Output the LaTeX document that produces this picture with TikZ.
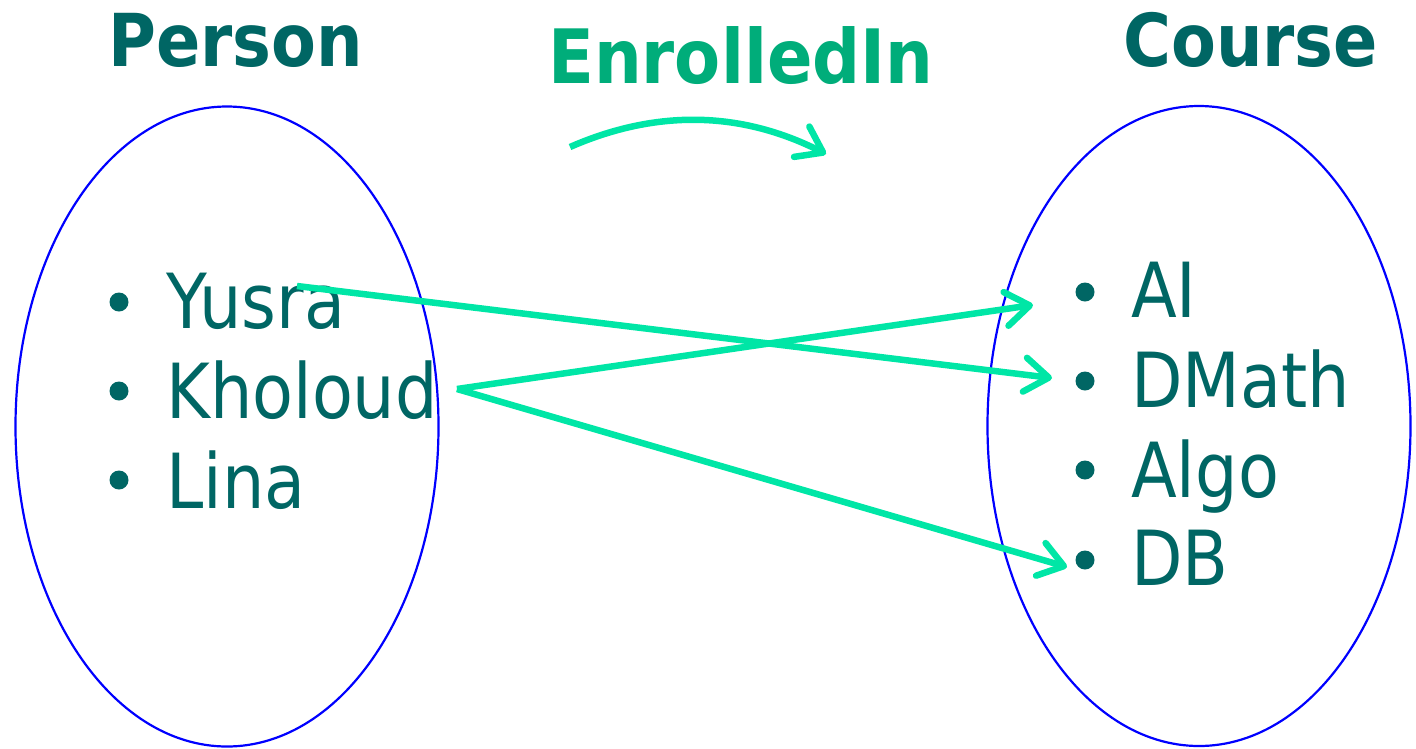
\documentclass[tikz,border=0pt]{standalone}
\usepackage{fontspec}
\usetikzlibrary{arrows.meta,shapes.geometric}
\newfontfamily\itemfont[FakeStretch=0.88]{DejaVu Sans}
\newfontfamily\titlefont[FakeStretch=0.895]{DejaVu Sans Bold}
\definecolor{teal}{RGB}{0,102,100}
\definecolor{relgreen}{RGB}{0,173,122}
\definecolor{mint}{RGB}{0,230,166}
\definecolor{setblue}{RGB}{0,0,255}
\tikzset{
  setshape/.style={ellipse, draw=setblue, line width=2.2pt, inner sep=0pt,
    minimum width=423pt, minimum height=640pt},
  title/.style={anchor=base west, inner sep=0pt, text=teal,
    font=\titlefont\fontsize{73}{80}\selectfont},
  relname/.style={anchor=base west, inner sep=0pt, text=relgreen,
    font=\titlefont\fontsize{75}{80}\selectfont},
  member/.style={anchor=base west, inner sep=0pt, text=teal,
    font=\itemfont\fontsize{76}{90}\selectfont},
  dot/.style={circle, fill=teal, inner sep=0pt, minimum size=19pt},
  link/.style={mint, line width=6.5pt,
    -{Straight Barb[length=24pt,width=34pt,round]}},
}
\begin{document}
\begin{tikzpicture}[x=1pt,y=-1pt]
\useasboundingbox (0,0) rectangle (1416,748);

% the two sets
\node[setshape] (person) at (227,426.5) {};
\node[setshape] (course) at (1199,426) {};

% headings
\node[title] (personT) at (108,66) {Person};
\node[title] (courseT) at (1123,66) {Course};
\node[relname] (relT) at (548,83) {EnrolledIn};

% members of Person
\node[dot] (b1) at (119,302) {};
\node[dot] (b2) at (119,391) {};
\node[dot] (b3) at (119,480) {};
\node[member] (yusra) at (166,328) {Yusra};
\node[member] (kholoud) at (166,418) {Kholoud};
\node[member] (lina) at (166,508) {Lina};

% members of Course
\node[dot] (c1) at (1085,292) {};
\node[dot] (c2) at (1085,381) {};
\node[dot] (c3) at (1085,470) {};
\node[dot] (c4) at (1085,560) {};
\node[member] (ai) at (1131,317) {AI};
\node[member] (dmath) at (1131,407) {DMath};
\node[member] (algo) at (1131,497) {Algo};
\node[member] (db) at (1131,585) {DB};

% connector ends
\coordinate (yOut) at (297,286);
\coordinate (kOut) at (457,389);
\coordinate (aiIn) at (1033,305);
\coordinate (dmIn) at (1052,378);
\coordinate (dbIn) at (1067,567);
\coordinate (relA) at (570,147);
\coordinate (relB) at (826,154);

% pairs of the relation
\draw[link] (yOut) -- (dmIn);
\draw[link] (kOut) -- (aiIn);
\draw[link] (kOut) -- (dbIn);

% direction of the relation
\draw[link] (relA) .. controls (650,112) and (735,108) .. (relB);
\end{tikzpicture}
\end{document}
